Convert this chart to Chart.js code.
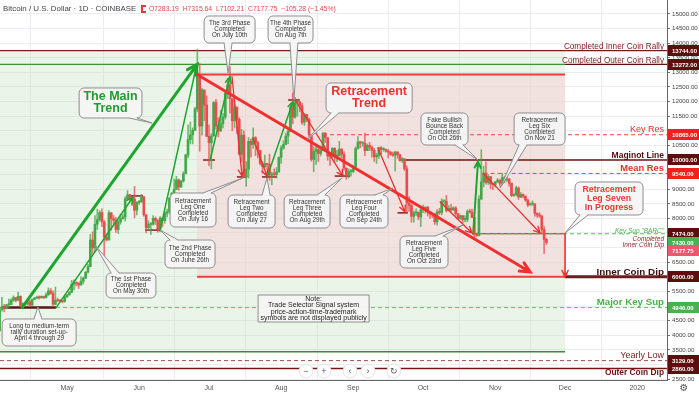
<!DOCTYPE html>
<html>
<head>
<meta charset="utf-8">
<title>Bitcoin / U.S. Dollar - 1D</title>
<script src="https://cdn.jsdelivr.net/npm/chart.js@4.4.1/dist/chart.umd.min.js"></script>
<style>
    html, body { margin: 0; padding: 0; background: #fff; overflow: hidden; }
    canvas { display: block; }
</style>
</head>
<body>
<canvas id="btcChart" width="699" height="394"></canvas>
<script>
const FONT = "'Liberation Sans', Arial, sans-serif";

// daily candles, [open, high, low, close], first one is 2019-04-02
const firstCandle = '2019-04-02';

const aprCandles = [
    [4150,4950,4140,4880],[4880,5300,4820,4970],[4970,5060,4800,4910],[4910,5060,4900,5040],
    [5040,5240,4950,5050],[5050,5250,5040,5200],[5200,5350,5150,5290],[5290,5290,5140,5200],
    [5200,5470,5170,5330],[5330,5350,4970,5020],[5020,5110,4930,5080],[5080,5120,5040,5070],
    [5070,5180,5030,5150],[5150,5190,4990,5030],[5030,5240,5020,5230],[5230,5300,5220,5270],
    [5270,5340,5250,5290],[5290,5350,5230,5280],[5280,5350,5270,5330],[5330,5340,5250,5290],
    [5290,5450,5270,5380],[5380,5620,5370,5520],[5520,5600,5400,5440],[5440,5520,4980,5060],
    [5060,5650,5040,5200],[5200,5270,5160,5180],[5180,5220,5140,5160],[5160,5190,5100,5150],
    [5150,5350,5130,5310]
];
const mayCandles = [
    [5310,5390,5300,5380],[5380,5500,5370,5470],[5470,5880,5460,5740],[5740,5900,5550,5810],
    [5810,5830,5680,5780],[5780,5800,5600,5720],[5720,6000,5710,5850],[5850,5990,5760,5950],
    [5950,6180,5940,6160],[6160,6430,6130,6350],[6350,7450,6340,7260],[7260,7540,6790,6990],
    [6990,8100,6860,7800],[7800,8320,7620,7960],[7960,8270,7900,8200],[8200,8330,7720,7880],
    [7880,7930,6600,7360],[7360,7480,7230,7260],[7260,8270,7260,8190],[8190,8200,7600,7990],
    [7990,8100,7800,7940],[7940,8040,7520,7620],[7620,7950,7480,7880],[7880,8150,7800,7990],
    [7990,8140,7970,8050],[8050,8740,7910,8670],[8670,8950,8640,8810],[8810,8820,8570,8720],
    [8720,8730,8440,8660],[8660,9100,8020,8280],[8280,8580,8120,8550]
];
const junCandles = [
    [8550,8620,8480,8560],[8560,8820,8560,8740],[8740,8750,8070,8120],[8120,8120,7500,7680],
    [7680,7920,7590,7790],[7790,7860,7450,7800],[7800,8100,7770,8000],[8000,8050,7790,7930],
    [7930,7960,7530,7630],[7630,8060,7540,8010],[8010,8020,7710,7920],[7920,8230,7830,8180],
    [8180,8320,8050,8230],[8230,8700,8160,8700],[8700,8900,8620,8860],[8860,9350,8860,8990],
    [8990,9440,8990,9320],[9320,9350,8960,9080],[9080,9300,9050,9280],[9280,9600,9240,9530],
    [9530,10200,9530,10170],[10170,11200,10070,10700],[10700,11300,10550,10860],[10860,11100,10550,11020],
    [11020,11800,11000,11750],[11750,13800,11650,12930],[12930,13300,10300,11160],[11160,12450,10850,12400],
    [12400,12400,11350,11880],[11880,12200,10800,10810]
];
const julCandles = [
    [10810,11200,9800,10590],[10590,10900,9700,10820],[10820,12000,10820,11970],[11970,12080,11050,11160],
    [11160,11450,10800,10990],[10990,11700,10990,11240],[11240,11600,11100,11470],[11470,12380,11400,12280],
    [12280,12800,12100,12570],[12570,13200,11600,12100],[12100,12100,11000,11340],[11340,11900,11100,11800],
    [11800,11830,10900,11390],[11390,11450,10200,10190],[10190,11050,9950,10850],[10850,11000,9400,9430],
    [9430,9950,9100,9690],[9690,10770,9380,10640],[10640,10720,10100,10530],[10530,11100,10400,10760],
    [10760,10800,10150,10590],[10590,10650,10070,10330],[10330,10330,9830,9880],[9880,9950,9550,9770],
    [9770,10170,9740,9880],[9880,9880,9680,9850],[9850,10200,9300,9480],[9480,9580,9150,9530],
    [9530,9700,9400,9500],[9500,9740,9380,9590],[9590,10110,9580,10090]
];
const augCandles = [
    [10090,10490,9880,10410],[10410,10660,10360,10530],[10530,10920,10520,10820],[10820,11090,10560,10980],
    [10980,11920,10980,11810],[11810,12300,11240,11470],[11470,12150,11430,11980],[11980,12040,11500,11990],
    [11990,12010,11650,11860],[11860,11950,11220,11290],[11290,11600,11180,11560],[11560,11570,11310,11390],
    [11390,11440,10790,10860],[10860,10880,9960,10020],[10020,10450,9600,10300],[10300,10500,9850,10360],
    [10360,10460,9950,10220],[10220,10480,10140,10320],[10320,10940,10310,10920],[10920,10940,10600,10760],
    [10760,10770,9990,10130],[10130,10230,9810,10120],[10120,10430,10080,10400],[10400,10420,9900,10140],
    [10140,10330,9940,10140],[10140,10640,10140,10370],[10370,10390,10080,10200],[10200,10290,9640,9720],
    [9720,9730,9340,9500],[9500,9700,9380,9600],[9600,9680,9450,9610]
];
const sepCandles = [
    [9610,9800,9560,9770],[9770,10450,9770,10390],[10390,10800,10370,10620],[10620,10630,10420,10580],
    [10580,10620,10460,10580],[10580,10920,10150,10320],[10320,10550,10320,10500],[10500,10600,10320,10440],
    [10440,10480,10100,10330],[10330,10400,9950,10110],[10110,10230,9880,10160],[10160,10440,10050,10420],
    [10420,10460,10200,10360],[10360,10420,10300,10360],[10360,10380,10270,10310],[10310,10360,10070,10270],
    [10270,10290,10160,10190],[10190,10270,10120,10160],[10160,10300,9620,10270],[10270,10290,10060,10180],
    [10180,10200,9960,9980],[9980,10090,9920,10040],[10040,10040,9640,9700],[9700,9800,8200,8530],
    [8530,8750,8240,8440],[8440,8500,7870,8070],[8070,8250,7870,8190],[8190,8330,8100,8210],
    [8210,8220,7950,8050],[8050,8330,7720,8300]
];
const octCandles = [
    [8300,8460,8200,8330],[8330,8390,8180,8390],[8390,8400,8080,8240],[8240,8240,8000,8160],
    [8160,8180,8030,8150],[8150,8170,7790,7880],[7880,8300,7770,8220],[8220,8340,8140,8200],
    [8200,8670,8120,8590],[8590,8640,8450,8590],[8590,8790,8220,8270],[8270,8440,8260,8340],
    [8340,8480,8230,8290],[8290,8400,8270,8360],[8360,8400,8100,8160],[8160,8170,7960,8000],
    [8000,8120,7970,8090],[8090,8100,7850,7960],[7960,8100,7880,7960],[7960,8290,7880,8230],
    [8230,8320,8180,8220],[8220,8320,8030,8030],[8030,8040,7300,7470],[7470,7500,7370,7420],
    [7420,8780,7400,8660],[8660,10350,8650,9250],[9250,9790,9080,9550],[9550,9940,9170,9230],
    [9230,9500,9160,9430],[9430,9430,9020,9180],[9180,9200,8980,9150]
];
const novCandles = [
    [9150,9270,9070,9250],[9250,9370,9220,9310],[9310,9330,9100,9200],[9200,9550,9180,9400],
    [9400,9450,9220,9310],[9310,9420,9270,9350],[9350,9370,9100,9200],[9200,9220,8750,8780],
    [8780,8850,8760,8810],[8810,9100,8770,9040],[9040,9080,8650,8730],[8730,8880,8710,8820],
    [8820,8840,8700,8760],[8760,8770,8580,8630],[8630,8660,8400,8460],[8460,8530,8450,8490],
    [8490,8600,8440,8500],[8500,8500,8070,8170],[8170,8190,8030,8120],[8120,8200,8030,8080],
    [8080,8100,7500,7620],[7620,7720,6800,7280],[7283.19,7315.64,7102.21,7177.75]
];

const monthTicks = [0, 31, 61, 92, 123, 153, 184, 214, 245];
const monthLabels = ['May', 'Jun', 'Jul', 'Aug', 'Sep', 'Oct', 'Nov', 'Dec', '2020'];
const priceTicks = [2500, 3000, 3500, 4000, 4500, 5000, 5500, 6000, 6500, 7000, 7500, 8000,
    8500, 9000, 9500, 10000, 10500, 11000, 11500, 12000, 12500, 13000, 13500, 14000, 14500, 15000];

// days are counted from 2019-05-01
const X_MIN = -28.8;
const X_MAX = 257.8;

const candles = [].concat(aprCandles, mayCandles, junCandles, julCandles,
    augCandles, sepCandles, octCandles, novCandles);

const upColor = '#43a84a';
const downColor = '#e84d4d';

function dayOf(iso) {
    const [y, m, d] = iso.split('-').map(Number);
    return (Date.UTC(y, m - 1, d) - Date.UTC(2019, 4, 1)) / 86400000;
}

const day0 = dayOf(firstCandle);
const wickData = candles.map((c, i) => ({ x: day0 + i, y: [c[2], c[1]] }));
const bodyData = candles.map((c, i) => ({ x: day0 + i, y: [c[0], c[3]] }));
const bodyColors = candles.map(c => c[3] >= c[0] ? upColor : downColor);
const wickColors = candles.map(c => c[3] >= c[0] ? 'rgba(67,168,74,0.75)' : 'rgba(232,77,77,0.75)');

// shaded zones and horizontal levels
const zones = [
    { from: X_MIN, to: 214, top: 13744, bottom: 3430, color: 'rgba(190,220,180,0.3)' },
    { from: 55.9, to: 214, top: 12930, bottom: 6000, color: 'rgba(247,208,214,0.5)' }
];

const levels = [
    { price: 13744, from: X_MIN, to: X_MAX, color: '#7b1a1a', width: 1.2 },
    { price: 13272, from: X_MIN, to: 214, color: '#3f8f3a', width: 1.2 },
    { price: 13272, from: 214, to: X_MAX, color: '#5c1010', width: 1.2 },
    { price: 12930, from: 55.9, to: 214, color: '#f23b3b', width: 2 },
    { price: 10865, from: 110, to: X_MAX, color: '#f0443a', width: 1, dash: [4, 3] },
    { price: 10000, from: 144, to: X_MAX, color: '#6b1515', width: 1.5 },
    { price: 9540, from: 179, to: X_MAX, color: '#f0443a', width: 1, dash: [4, 3] },
    { price: 7474, from: 174, to: 214, color: '#8b2c2c', width: 1 },
    { price: 7474, from: 174, to: X_MAX, color: '#5cb85c', width: 1, dash: [4, 3] },
    { price: 6000, from: 55.9, to: 214, color: '#f23b3b', width: 2 },
    { price: 6000, from: 214, to: X_MAX, color: '#6b1c1c', width: 3 },
    { price: 4946, from: X_MIN, to: X_MAX, color: '#6cbf6c', width: 1, dash: [4, 3] },
    { price: 3430, from: X_MIN, to: 214, color: '#3c8c34', width: 1.5 },
    { price: 3129, from: X_MIN, to: X_MAX, color: '#a04848', width: 1, dash: [4, 3] },
    { price: 2860, from: X_MIN, to: X_MAX, color: '#7a1212', width: 1.5 },
    { price: 4946, from: -28, to: -4.7, color: '#5a1a1a', width: 2.5 }
];

// short swing markers
const marks = [
    { price: 8770, from: 26.2, to: 32.7 },
    { price: 7600, from: 33.5, to: 40 },
    { price: 10000, from: 58.4, to: 63.6 },
    { price: 9420, from: 73, to: 77.4 },
    { price: 9420, from: 83.8, to: 90.2 },
    { price: 12055, from: 95, to: 100 },
    { price: 9450, from: 115, to: 121.6 },
    { price: 8190, from: 142, to: 146.5 }
];

const arrows = [
    { from: [-19.3, 4946], to: [55.9, 13272], color: '#1ea52e', width: 3 },
    { from: [-4.7, 4946], to: [28.4, 8733], color: '#1ea52e', width: 1.5 },
    { from: [40, 7600], to: [55.5, 13180], color: '#1ea52e', width: 1.5 },
    { from: [61.5, 10000], to: [70, 12850], color: '#1ea52e', width: 1.5 },
    { from: [86, 9420], to: [97.1, 12000], color: '#1ea52e', width: 1.5 },
    { from: [174.5, 7474], to: [176.6, 9950], color: '#1ea52e', width: 2 },
    { from: [55.9, 12930], to: [199, 6164], color: '#f22f2f', width: 3 },
    { from: [70.9, 12850], to: [75.2, 9450], color: '#e83030', width: 1.3 },
    { from: [79.9, 10750], to: [85.9, 9450], color: '#e83030', width: 1.3 },
    { from: [98, 12055], to: [118.6, 9450], color: '#e83030', width: 1.3 },
    { from: [133.6, 10410], to: [145.2, 8220], color: '#e83030', width: 1.3 },
    { from: [160.3, 8560], to: [174, 7500], color: '#e83030', width: 1.3 },
    { from: [178.8, 9550], to: [203.3, 7500], color: '#e83030', width: 1.3 },
    { from: [214, 7474], to: [214, 6000], color: '#f22f2f', width: 1.6 }
];

const callouts = [
    { box: [58.9, 80.8, 14932, 14007], target: [69.2, 12979], lines: ['The 3rd Phase', 'Completed', 'On July 10th'] },
    { box: [86.4, 105.7, 14932, 14007], target: [97.5, 12055], lines: ['The 4th Phase', 'Completed', 'On Aug 7th'] },
    { box: [5.2, 32.2, 12466, 11438], target: [36.5, 11267], lines: ['The Main', 'Trend'], font: 'bold 12.5px', color: '#1f9d30', lh: 12 },
    { box: [111.3, 148.3, 12637, 11610], target: [103.1, 10685], lines: ['Retracement', 'Trend'], font: 'bold 12.5px', color: '#f0302c', lh: 12 },
    { box: [152.1, 172.3, 11610, 10514], target: [176.6, 10000], lines: ['Fake Bullish', 'Bounce Back', 'Completed', 'On Oct 26th'] },
    { box: [192.1, 214, 11610, 10514], target: [186.1, 9041], lines: ['Retracement', 'Leg Six', 'Completed', 'On Nov 21'] },
    { box: [218.3, 247.5, 9247, 8116], target: [214, 7500], lines: ['Retracement', 'Leg Seven', 'In Progress'], font: 'bold 8.8px', color: '#e83a2e', lh: 9 },
    { box: [44.3, 64, 8870, 7705], target: [75.6, 9384], lines: ['Retracement', 'Leg One', 'Completed', 'On July 16'] },
    { box: [69.2, 89.4, 8801, 7671], target: [85.9, 9384], lines: ['Retracement', 'Leg Two', 'Completed', 'On July 27'] },
    { box: [93.3, 113, 8801, 7671], target: [118.2, 9384], lines: ['Retracement', 'Leg Three', 'Completed', 'On Aug 29th'] },
    { box: [117.3, 137.9, 8801, 7671], target: [140.1, 9041], lines: ['Retracement', 'Leg Four', 'Completed', 'On Sep 24th'] },
    { box: [143.1, 163.7, 7397, 6301], target: [170.2, 7774], lines: ['Retracement', 'Leg Five', 'Completed', 'On Oct 23rd'] },
    { box: [42.1, 63.6, 7260, 6301], target: [40, 7603], lines: ['The 2nd Phase', 'Completed', 'On June 26th'] },
    { box: [16.8, 38.2, 6130, 5274], target: [12, 7089], lines: ['The 1st Phase', 'Completed', 'On May 30th'] },
    { box: [-27.9, 3.9, 4555, 3630], target: [-12.5, 4966], lines: ['Long to medium-term', 'rally duration set-up-', 'April 4 through 29'] },
    { box: [82.1, 129.8, 5377, 4452], square: true, lines: ['Note:', 'Trade Selector Signal system', 'price-action-time-trademark', 'symbols are not displayed publicly'], font: '7px', color: '#222', lh: 6.3 }
];

const sideLabels = [
    { price: 13744, dy: -4, text: 'Completed Inner Coin Rally', font: '8.2px', color: '#7d2121' },
    { price: 13272, dy: -4, text: 'Completed Outer Coin Rally', font: '8.2px', color: '#7d2121' },
    { price: 10865, dy: -5, text: 'Key Res', font: '9px', color: '#e8302a' },
    { price: 10000, dy: -4, text: 'Maginot Line', font: 'bold 8.5px', color: '#4a1010' },
    { price: 9540, dy: -5, text: 'Mean Res', font: 'bold 9.4px', color: '#e8302a' },
    { price: 7474, dy: -3, text: 'Key Sup "BARC"', font: 'italic 6.5px', color: '#4caf50' },
    { price: 7474, dy: 5, text: 'Completed', font: 'italic 6.5px', color: '#8b2a2a' },
    { price: 7474, dy: 11, text: 'Inner Coin Dip', font: 'italic 6.5px', color: '#8b2a2a' },
    { price: 6000, dy: -5, text: 'Inner Coin Dip', font: 'bold 9.9px', color: '#3d0e0e' },
    { price: 4946, dy: -5, text: 'Major Key Sup', font: 'bold 9.7px', color: '#4cae4c' },
    { price: 3129, dy: -5, text: 'Yearly Low', font: '9px', color: '#7d2121' },
    { price: 2860, dy: 4, text: 'Outer Coin Dip', font: 'bold 8.4px', color: '#6b0f0f' }
];

// axis tags; dy pushes apart tags that would overlap, as the original does
const priceTags = [
    { price: 13744, text: '13744.00', bg: '#5e0d0d' },
    { price: 13272, text: '13272.00', bg: '#5e0d0d' },
    { price: 10865, text: '10865.00', bg: '#f2201c' },
    { price: 10000, text: '10000.00', bg: '#5e0d0d' },
    { price: 9540, text: '9540.00', bg: '#f2201c' },
    { price: 7474, text: '7474.00', bg: '#5e0d0d' },
    { price: 7430, text: '7430.00', bg: '#4caf50', dy: 7.5 },
    { price: 7177.75, text: '7177.75', bg: '#f0566c', dy: 8.5 },
    { price: 6000, text: '6000.00', bg: '#5e0d0d' },
    { price: 4946, text: '4946.00', bg: '#4caf50' },
    { price: 3129, text: '3129.00', bg: '#5e0d0d' },
    { price: 2860, text: '2860.00', bg: '#5e0d0d' }
];

function pt(chart, d, p) {
    return [chart.scales.x.getPixelForValue(d), chart.scales.y.getPixelForValue(p)];
}

function clamp(v, lo, hi) {
    return Math.max(lo, Math.min(hi, v));
}

function drawArrow(ctx, chart, a) {
    const [x1, y1] = pt(chart, a.from[0], a.from[1]);
    const [x2, y2] = pt(chart, a.to[0], a.to[1]);
    const ang = Math.atan2(y2 - y1, x2 - x1);
    const head = a.width >= 3 ? 11 : 7;
    ctx.strokeStyle = a.color;
    ctx.lineWidth = a.width;
    ctx.lineCap = 'round';
    ctx.beginPath();
    ctx.moveTo(x1, y1);
    ctx.lineTo(x2, y2);
    ctx.moveTo(x2 - head * Math.cos(ang - 0.45), y2 - head * Math.sin(ang - 0.45));
    ctx.lineTo(x2, y2);
    ctx.lineTo(x2 - head * Math.cos(ang + 0.45), y2 - head * Math.sin(ang + 0.45));
    ctx.stroke();
}

function roundRectPath(ctx, l, t, w, h, r) {
    ctx.beginPath();
    ctx.moveTo(l + r, t);
    ctx.lineTo(l + w - r, t);
    ctx.arcTo(l + w, t, l + w, t + r, r);
    ctx.lineTo(l + w, t + h - r);
    ctx.arcTo(l + w, t + h, l + w - r, t + h, r);
    ctx.lineTo(l + r, t + h);
    ctx.arcTo(l, t + h, l, t + h - r, r);
    ctx.lineTo(l, t + r);
    ctx.arcTo(l, t, l + r, t, r);
    ctx.closePath();
}

function drawCallout(ctx, chart, c) {
    const [l, t] = pt(chart, c.box[0], c.box[2]);
    const [r, b] = pt(chart, c.box[1], c.box[3]);
    const fill = 'rgba(246,246,246,0.95)';
    ctx.fillStyle = fill;
    ctx.strokeStyle = '#8e8e8e';
    ctx.lineWidth = 1;
    ctx.lineCap = 'butt';
    roundRectPath(ctx, l, t, r - l, b - t, c.square ? 0 : 5);
    ctx.fill();
    ctx.stroke();

    if (c.target) {
        const [tx, ty] = pt(chart, c.target[0], c.target[1]);
        let p1, p2, cover;
        if (ty > b || ty < t) {
            const bx = clamp(tx, l + 9, r - 9);
            const by = ty > b ? b : t;
            p1 = [bx - 4, by];
            p2 = [bx + 4, by];
            cover = [bx - 3.5, by - 1, 7, 2];
        } else {
            const bx = tx < l ? l : r;
            const by = clamp(ty, t + 7, b - 7);
            p1 = [bx, by - 4];
            p2 = [bx, by + 4];
            cover = [bx - 1, by - 3.5, 2, 7];
        }
        ctx.beginPath();
        ctx.moveTo(p1[0], p1[1]);
        ctx.lineTo(tx, ty);
        ctx.lineTo(p2[0], p2[1]);
        ctx.closePath();
        ctx.fill();
        ctx.fillRect(cover[0], cover[1], cover[2], cover[3]);
        ctx.beginPath();
        ctx.moveTo(p1[0], p1[1]);
        ctx.lineTo(tx, ty);
        ctx.lineTo(p2[0], p2[1]);
        ctx.stroke();
    }

    const lh = c.lh || 6;
    ctx.font = (c.font || '6.3px') + ' ' + FONT;
    ctx.fillStyle = c.color || '#333';
    ctx.textAlign = 'center';
    ctx.textBaseline = 'middle';
    const cx = (l + r) / 2;
    const startY = (t + b) / 2 - (c.lines.length - 1) * lh / 2;
    c.lines.forEach((line, i) => ctx.fillText(line, cx, startY + i * lh));
}

function drawCircleButton(ctx, x, y, glyph) {
    ctx.beginPath();
    ctx.arc(x, y, 7, 0, Math.PI * 2);
    ctx.fillStyle = '#fff';
    ctx.fill();
    ctx.strokeStyle = '#dfe2e8';
    ctx.lineWidth = 1;
    ctx.stroke();
    ctx.fillStyle = '#555';
    ctx.font = '9px ' + FONT;
    ctx.textAlign = 'center';
    ctx.textBaseline = 'middle';
    ctx.fillText(glyph, x, y + 0.5);
}

const overlayPlugin = {
    id: 'overlay',
    beforeDatasetsDraw(chart) {
        const { ctx, chartArea: a } = chart;
        ctx.save();
        ctx.beginPath();
        ctx.rect(a.left, a.top, a.right - a.left, a.bottom - a.top);
        ctx.clip();

        zones.forEach(z => {
            const [x1, y1] = pt(chart, z.from, z.top);
            const [x2, y2] = pt(chart, z.to, z.bottom);
            ctx.fillStyle = z.color;
            ctx.fillRect(x1, y1, x2 - x1, y2 - y1);
        });

        levels.forEach(l => {
            const [x1, y] = pt(chart, l.from, l.price);
            const [x2] = pt(chart, l.to, l.price);
            ctx.strokeStyle = l.color;
            ctx.lineWidth = l.width;
            ctx.setLineDash(l.dash || []);
            ctx.beginPath();
            ctx.moveTo(x1, y);
            ctx.lineTo(x2, y);
            ctx.stroke();
        });
        ctx.setLineDash([]);

        marks.forEach(m => {
            const [x1, y] = pt(chart, m.from, m.price);
            const [x2] = pt(chart, m.to, m.price);
            ctx.strokeStyle = '#8b1a1a';
            ctx.lineWidth = 1.5;
            ctx.beginPath();
            ctx.moveTo(x1, y);
            ctx.lineTo(x2, y);
            ctx.stroke();
        });
        ctx.restore();
    },
    afterDatasetsDraw(chart) {
        const { ctx, chartArea: a } = chart;
        ctx.save();
        ctx.beginPath();
        ctx.rect(a.left, a.top, a.right - a.left, a.bottom - a.top);
        ctx.clip();

        arrows.forEach(ar => drawArrow(ctx, chart, ar));
        callouts.forEach(c => drawCallout(ctx, chart, c));

        ctx.textAlign = 'right';
        ctx.textBaseline = 'middle';
        sideLabels.forEach(s => {
            const y = chart.scales.y.getPixelForValue(s.price) + s.dy;
            ctx.font = s.font + ' ' + FONT;
            ctx.fillStyle = s.color;
            ctx.fillText(s.text, a.right - 3, y);
        });
        ctx.restore();
    },
    afterDraw(chart) {
        const { ctx, chartArea: a } = chart;
        ctx.save();

        // price tags on the right axis
        ctx.font = 'bold 6px ' + FONT;
        ctx.textAlign = 'left';
        ctx.textBaseline = 'middle';
        priceTags.forEach(tag => {
            const y = chart.scales.y.getPixelForValue(tag.price) + (tag.dy || 0);
            ctx.fillStyle = tag.bg;
            ctx.fillRect(a.right + 1, Math.round(y - 5.5), chart.width - a.right - 1, 11);
            ctx.fillStyle = '#fff';
            ctx.fillText(tag.text, a.right + 5, y + 0.5);
        });

        // header line
        ctx.textBaseline = 'middle';
        ctx.font = '7.9px ' + FONT;
        ctx.fillStyle = '#444';
        ctx.fillText('Bitcoin / U.S. Dollar \u00b7 1D \u00b7 COINBASE', 3, 9);
        ctx.fillStyle = '#e5383b';
        ctx.fillRect(141, 5, 5, 8);
        ctx.fillStyle = '#fff';
        ctx.fillRect(143, 7, 3, 4);
        ctx.fillStyle = '#e5484d';
        ctx.font = '6.8px ' + FONT;
        ctx.fillText('O7283.19  H7315.64  L7102.21  C7177.75  \u2212105.28 (\u22121.45%)', 149, 9.5);

        // navigation buttons
        [[306, '\u2212'], [324, '+'], [350, '\u2039'], [368, '\u203a'], [394, '\u21bb']].forEach(b => {
            drawCircleButton(ctx, b[0], 371, b[1]);
        });

        // settings glyph
        ctx.fillStyle = '#555';
        ctx.font = '10px DejaVu Sans';
        ctx.textAlign = 'center';
        ctx.fillText('\u2699', 684, 388);
        ctx.restore();
    }
};

new Chart(document.getElementById('btcChart'), {
    type: 'bar',
    data: {
        datasets: [
            {
                data: wickData,
                backgroundColor: wickColors,
                barThickness: 1,
                grouped: false,
                order: 2
            },
            {
                data: bodyData,
                backgroundColor: bodyColors,
                barThickness: 2,
                minBarLength: 1,
                grouped: false,
                order: 1
            }
        ]
    },
    options: {
        responsive: false,
        animation: false,
        devicePixelRatio: 1,
        layout: { padding: 0 },
        plugins: {
            legend: { display: false },
            tooltip: { enabled: false }
        },
        scales: {
            x: {
                type: 'linear',
                min: X_MIN,
                max: X_MAX,
                offset: false,
                grid: { color: '#eaedf1', drawTicks: false },
                border: { color: '#666' },
                ticks: {
                    color: '#555',
                    font: { size: 7, family: FONT },
                    padding: 4,
                    maxRotation: 0,
                    autoSkip: false,
                    callback: v => monthLabels[monthTicks.indexOf(v)]
                },
                afterBuildTicks: s => { s.ticks = monthTicks.map(v => ({ value: v })); },
                afterFit: s => { s.height = 14; s.paddingLeft = 0; s.paddingRight = 0; }
            },
            y: {
                position: 'right',
                min: 2466,
                max: 15479,
                grid: { color: '#eaedf1', tickColor: '#777', tickLength: 3 },
                border: { color: '#666' },
                ticks: {
                    color: '#444',
                    font: { size: 6.2, family: FONT },
                    padding: 2,
                    callback: v => v.toFixed(2)
                },
                afterBuildTicks: s => { s.ticks = priceTicks.map(v => ({ value: v })); },
                afterFit: s => { s.width = 32; s.paddingTop = 0; s.paddingBottom = 0; }
            }
        }
    },
    plugins: [overlayPlugin]
});
</script>
</body>
</html>
